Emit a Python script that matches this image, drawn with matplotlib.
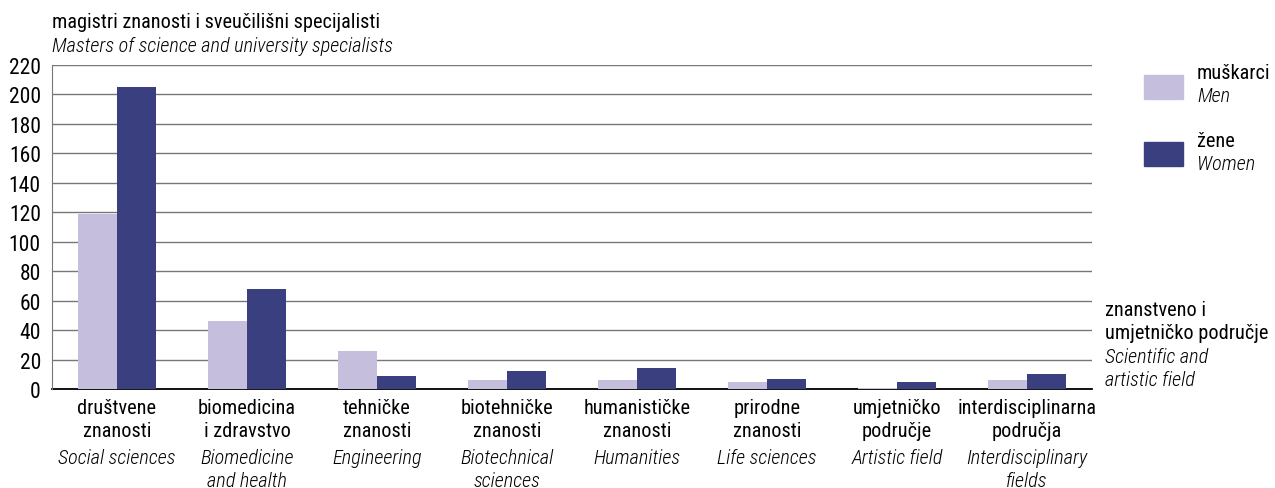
import matplotlib.pyplot as plt
from matplotlib.patches import Rectangle
import numpy as np

# podaci
kategorije_hr = ["društvene\nznanosti", "biomedicina\ni zdravstvo", "tehničke\nznanosti",
                 "biotehničke\nznanosti", "humanističke\nznanosti", "prirodne\nznanosti",
                 "umjetničko\npodručje", "interdisciplinarna\npodručja"]
kategorije_en = ["Social sciences", "Biomedicine\nand health", "Engineering",
                 "Biotechnical\nsciences", "Humanities", "Life sciences",
                 "Artistic field", "Interdisciplinary\nfields"]
muskarci = [119, 46, 26, 6, 6, 5, 1, 6]
zene = [205, 68, 9, 12, 14, 7, 5, 10]
yticks = [0, 20, 40, 60, 80, 100, 120, 140, 160, 180, 200, 220]

svijetla = "#c5bedc"
tamna = "#3a3f7f"

plt.rcParams['font.family'] = ['Roboto Condensed', 'Roboto', 'DejaVu Sans']
fs = 14.6

W, H = 1275, 489
fig = plt.figure(figsize=(W / 100, H / 100), dpi=100)
ax = fig.add_axes([52 / W, 1 - 390 / H, 1040 / W, 324 / H])

x = np.arange(len(muskarci))
w = 0.3
ax.bar(x - w / 2, muskarci, w, color=svijetla, zorder=3)
ax.bar(x + w / 2, zene, w, color=tamna, zorder=3)

ax.set_xlim(-0.5, len(muskarci) - 0.5)
ax.set_ylim(0, 220)
ax.set_yticks(yticks)
ax.set_yticklabels([str(v) for v in yticks], fontsize=15.5)
ax.yaxis.grid(True, color="#777777", linewidth=1.0, zorder=0)
ax.tick_params(axis='y', length=0, pad=8)
ax.set_xticks([])
for s in ["top", "right"]:
    ax.spines[s].set_visible(False)
ax.spines["left"].set_color("#777777")
ax.spines["bottom"].set_color("black")
ax.spines["bottom"].set_linewidth(1.3)
ax.spines["bottom"].set_zorder(2)

# oznake kategorija
tr = ax.get_xaxis_transform()
for i in range(len(x)):
    ax.text(i, -9 / 324, kategorije_hr[i], transform=tr, ha="center", va="top",
            fontsize=fs, linespacing=1.25)
    ax.text(i, -59 / 324, kategorije_en[i], transform=tr, ha="center", va="top",
            fontsize=fs, style="italic", fontweight="light", linespacing=1.25)

# naslov
fig.text(52 / W, 1 - 22 / H, "magistri znanosti i sveučilišni specijalisti",
         fontsize=fs, va="center")
fig.text(52 / W, 1 - 47 / H, "Masters of science and university specialists",
         fontsize=fs, style="italic", fontweight="light", va="center")

# legenda
fig.add_artist(Rectangle((1144 / W, 1 - 100 / H), 39 / W, 24 / H,
                         transform=fig.transFigure, color=svijetla))
fig.add_artist(Rectangle((1144 / W, 1 - 167 / H), 39 / W, 24 / H,
                         transform=fig.transFigure, color=tamna))
fig.text(1197 / W, 1 - 74 / H, "muškarci", fontsize=fs, va="center")
fig.text(1197 / W, 1 - 97 / H, "Men", fontsize=fs, style="italic", fontweight="light",
         va="center")
fig.text(1197 / W, 1 - 142 / H, "žene", fontsize=fs, va="center")
fig.text(1197 / W, 1 - 165 / H, "Women", fontsize=fs, style="italic", fontweight="light",
         va="center")

# oznaka osi x
fig.text(1105 / W, 1 - 322 / H, "znanstveno i\numjetničko područje", fontsize=fs,
         va="center", linespacing=1.3)
fig.text(1105 / W, 1 - 369 / H, "Scientific and\nartistic field", fontsize=fs,
         style="italic", fontweight="light", va="center", linespacing=1.3)

fig.savefig("out.png", dpi=100)
